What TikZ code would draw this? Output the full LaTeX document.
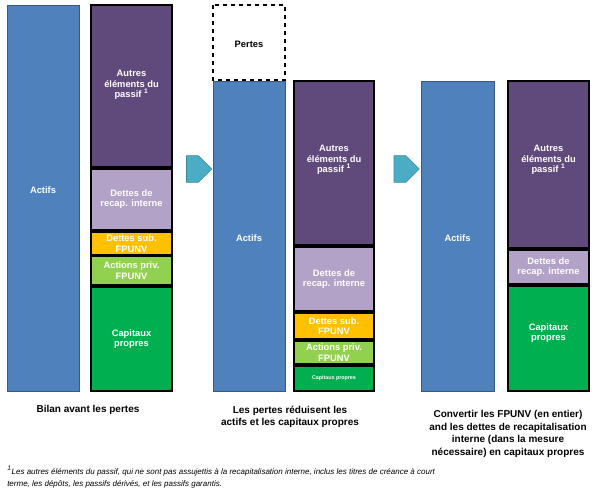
\documentclass[tikz,border=0pt]{standalone}
\usepackage{fontspec}
\setmainfont{Liberation Sans}
\usetikzlibrary{shapes.arrows}
\definecolor{blu}{HTML}{4F81BD}
\definecolor{pur}{HTML}{604A7B}
\definecolor{lav}{HTML}{B3A2C7}
\definecolor{ora}{HTML}{FFC000}
\definecolor{lgr}{HTML}{92D050}
\definecolor{grn}{HTML}{00B050}
\definecolor{arr}{HTML}{4BACC6}
\begin{document}
\begin{tikzpicture}[x=0.75pt,y=-0.75pt,
 lab/.style={font=\bfseries\fontsize{7}{8}\selectfont,text=white,align=center},
 seg/.style={draw=black,line width=1.2pt},
 act/.style={fill=blu,draw=blu!70!black,line width=0.6pt},
 capt/.style={font=\bfseries\fontsize{7.5}{9.5}\selectfont,align=center,text=black},
 blarrow/.style={single arrow,fill=arr,draw=arr!80!black,minimum width=20pt,single arrow head extend=0pt,minimum height=19pt,inner sep=2pt}]
\useasboundingbox (0,0) rectangle (600,496);
% column 1
\draw[act] (7,5) rectangle (79,391);
\node[lab] (a1) at (43,190) {Actifs};
\draw[seg,fill=pur] (91,5) rectangle (172,167);
\node[lab] (o1) at (131.5,85) {Autres\\éléments du\\passif \textsuperscript{1}};
\draw[seg,fill=lav] (91,169) rectangle (172,230);
\node[lab] (r1) at (131.5,199) {Dettes de\\recap. interne};
\draw[seg,fill=ora] (91,232) rectangle (172,255);
\node[lab] (s1) at (131.5,243.5) {Dettes sub.\\FPUNV};
\draw[seg,fill=lgr] (91,256) rectangle (172,285);
\node[lab] (p1) at (131.5,270.5) {Actions priv.\\FPUNV};
\draw[seg,fill=grn] (91,287) rectangle (172,391);
\node[lab] (c1) at (131.5,339) {Capitaux\\propres};
% arrow 1
\node[blarrow] (ar1) at (192.5,169) {};
% column 3
\draw[dashed,line width=0.8pt] (213,5) rectangle (285,80);
\node[font=\bfseries\fontsize{7}{8}\selectfont] (pe) at (249,44) {Pertes};
\draw[act] (213,81) rectangle (285,391);
\node[lab] (a2) at (249,238) {Actifs};
\draw[seg,fill=pur] (294,81) rectangle (374,245);
\node[lab] (o2) at (334,160) {Autres\\éléments du\\passif \textsuperscript{1}};
\draw[seg,fill=lav] (294,247) rectangle (374,311);
\node[lab] (r2) at (334,279) {Dettes de\\recap. interne};
\draw[seg,fill=ora] (294,313) rectangle (374,339);
\node[lab] (s2) at (334,326) {Dettes sub.\\FPUNV};
\draw[seg,fill=lgr] (294,341) rectangle (374,364);
\node[lab] (p2) at (334,352.5) {Actions priv.\\FPUNV};
\draw[seg,fill=grn] (294,366) rectangle (374,391);
\node[lab,font=\bfseries\fontsize{4}{5}\selectfont] (c2) at (334,378) {Capitaux propres};
% arrow 2
\node[blarrow] (ar2) at (400,169) {};
% column 5
\draw[act] (421,81) rectangle (494,391);
\node[lab] (a3) at (457.5,238) {Actifs};
\draw[seg,fill=pur] (508,81) rectangle (589,248);
\node[lab] (o3) at (548.5,160) {Autres\\éléments du\\passif \textsuperscript{1}};
\draw[seg,fill=lav] (508,250) rectangle (589,284);
\node[lab] (r3) at (548.5,267) {Dettes de\\recap. interne};
\draw[seg,fill=grn] (508,286) rectangle (589,391);
\node[lab] (c3) at (548.5,333) {Capitaux\\propres};
% captions
\node[capt] (t1) at (88,410) {Bilan avant les pertes};
\node[capt] (t2) at (290,417) {Les pertes réduisent les\\actifs et les capitaux propres};
\node[capt] (t3) at (508,434) {Convertir les FPUNV (en entier)\\and les dettes de recapitalisation\\interne (dans la mesure\\nécessaire) en capitaux propres};
\node[anchor=north west,align=left,font=\itshape\fontsize{6}{9}\selectfont,inner sep=0] (fn) at (7,466) {\textsuperscript{1}Les autres éléments du passif, qui ne sont pas assujettis à la recapitalisation interne, inclus les titres de créance à court\\terme, les dépôts, les passifs dérivés, et les passifs garantis.};
\end{tikzpicture}
\end{document}
